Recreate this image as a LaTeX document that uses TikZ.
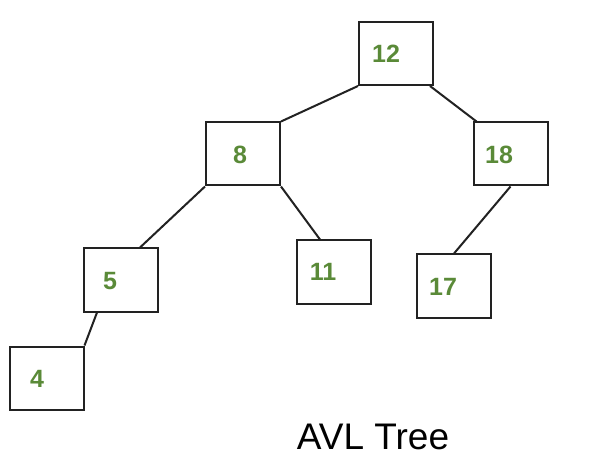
\documentclass[tikz,border=0pt]{standalone}
\usepackage{fontspec}
\setmainfont{Liberation Sans}
\usetikzlibrary{calc}
\definecolor{numgreen}{HTML}{5A8A38}
\definecolor{linegray}{HTML}{222222}
\tikzset{
  treebox/.style={draw=linegray, line width=2pt, minimum width=74pt, minimum height=63pt, inner sep=0pt},
  numtext/.style={text=numgreen, font=\fontsize{25}{25}\selectfont\bfseries, inner sep=0pt},
  edge/.style={draw=linegray, line width=2pt}
}
\begin{document}
\begin{tikzpicture}[x=1pt,y=-1pt]
\useasboundingbox[fill=white] (0,0) rectangle (616,473);
\node[treebox] (n12) at (396,53.5) {};
\node[treebox] (n8) at (243,154) {};
\node[treebox] (n18) at (510.5,154) {};
\node[treebox] (n5) at (120.5,280) {};
\node[treebox] (n4) at (46.5,378) {};
\node[treebox] (n11) at (333.5,272) {};
\node[treebox] (n17) at (454,286) {};
\node[numtext] (t12) at (386,54) {12};
\node[numtext] (t8) at (240,155) {8};
\node[numtext] (t18) at (499,155) {18};
\node[numtext] (t5) at (110,281) {5};
\node[numtext] (t4) at (37,379) {4};
\node[numtext] (t11) at (323,272) {11};
\node[numtext] (t17) at (443,287) {17};
\node[inner sep=0pt, font=\fontsize{37}{37}\selectfont] (title) at (373,437) {AVL Tree};
\draw[edge] (n12.south west) -- (n8.north east);
\draw[edge] ($(n12.south east)+(-4,0)$) -- ($(n18.north west)+(4,0)$);
\draw[edge] (n8.south west) -- ($(n5.north)+(19.5,0)$);
\draw[edge] (n8.south east) -- ($(n11.north)+(-13.5,0)$);
\draw[edge] (n18.south) -- (n17.north);
\draw[edge] ($(n5.south)+(-23.5,0)$) -- (n4.north east);
\end{tikzpicture}
\end{document}
